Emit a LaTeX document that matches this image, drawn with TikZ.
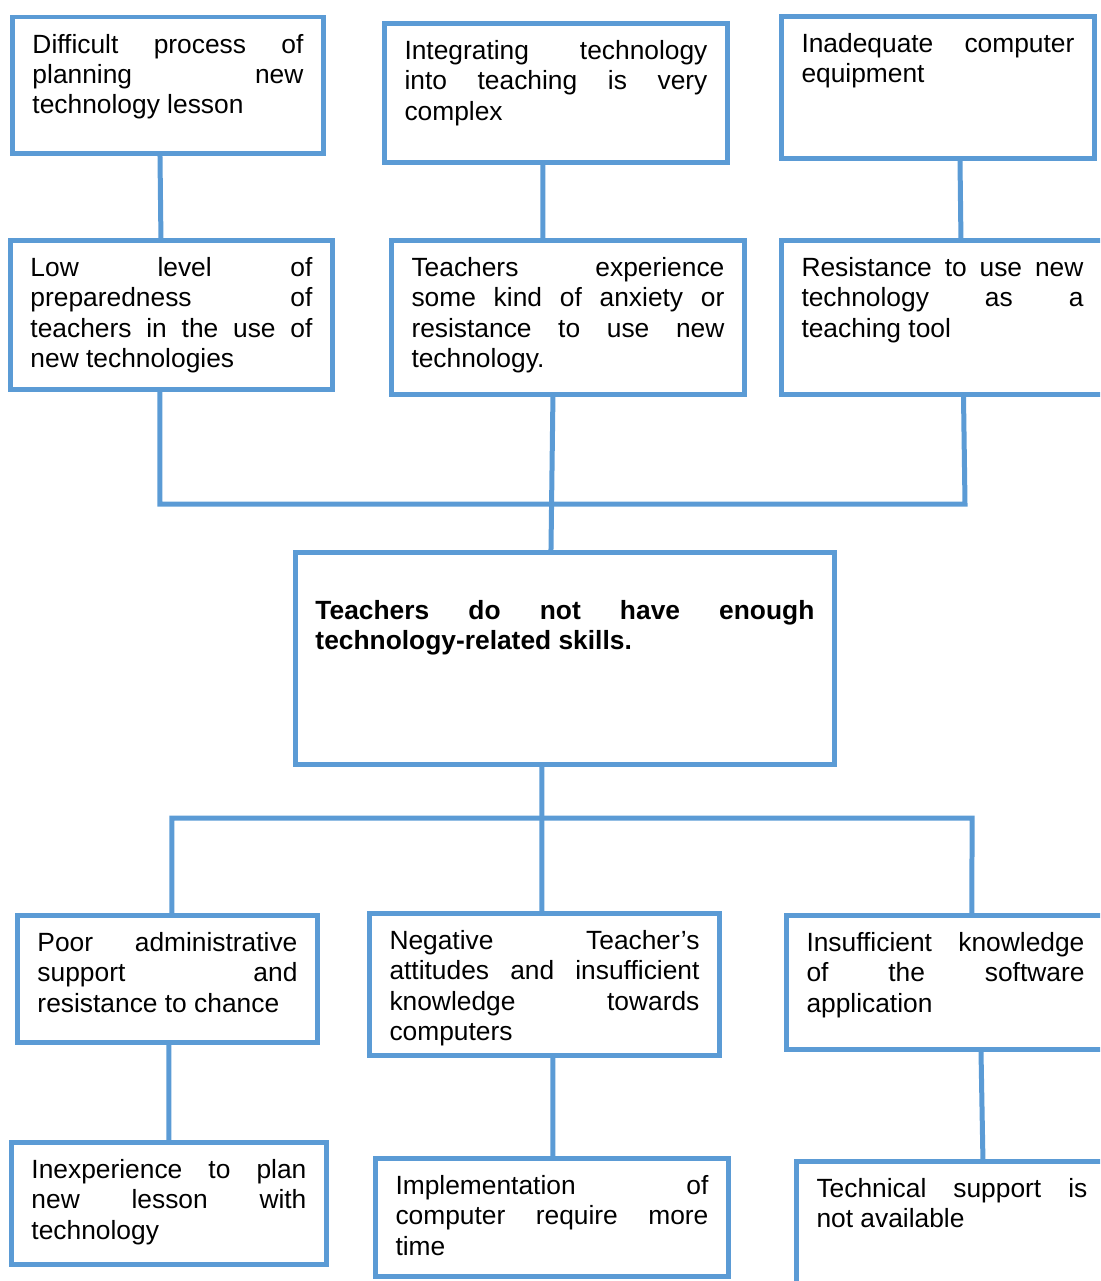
\documentclass[tikz,border=0pt]{standalone}
\usepackage{fontspec}
\setmainfont{Liberation Sans}
\definecolor{boxblue}{RGB}{91,155,213}

\begin{document}
\begin{tikzpicture}[
  x=0.02cm, y=-0.02cm,
  font=\fontsize{15}{17.2}\selectfont,
  cause/.style={draw=boxblue, line width=0.1cm, anchor=north west, outer sep=0pt, inner xsep=0.4cm, inner ysep=0.34cm},
  link/.style={draw=boxblue, line width=0.1cm}
]
\useasboundingbox (0,0) rectangle (1100,1281);
\clip (0,0) rectangle (1100,1281);

% upper causes
\node[cause] (plan) at (12.5,17) {\parbox[t][2.06cm][t]{5.42cm}{Difficult process of\linebreak planning new\linebreak technology lesson}};
\node[cause] (integ) at (384.5,23.5) {\parbox[t][2.10cm][t]{6.06cm}{Integrating technology\linebreak into teaching is very\linebreak complex}};
\node[cause] (equip) at (781.5,16.5) {\parbox[t][2.16cm][t]{5.46cm}{Inadequate computer\linebreak equipment}};

\node[cause] (prep) at (10.5,240.5) {\parbox[t][2.30cm][t]{5.64cm}{Low level of\linebreak preparedness of\linebreak teachers in the use of\linebreak new technologies}};
\node[cause] (anx) at (391.5,240.5) {\parbox[t][2.40cm][t]{6.26cm}{Teachers experience\linebreak some kind of anxiety or\linebreak resistance to use new\linebreak technology.}};
\node[cause] (resist) at (781.5,240.5) {\parbox[t][2.40cm][t]{5.64cm}{Resistance to use new\linebreak technology as a\linebreak teaching tool}};

% main problem
\node[cause, font=\fontsize{15}{17.2}\selectfont\bfseries] (skills) at (295.5,552.5) {\parbox[t][3.56cm][t]{9.98cm}{\vspace*{0.62cm}Teachers do not have enough\linebreak technology-related skills.}};

% lower causes
\node[cause] (admin) at (17.5,915.5) {\parbox[t][1.86cm][t]{5.20cm}{Poor administrative\linebreak support and\linebreak resistance to chance}};
\node[cause] (attit) at (369.5,913.5) {\parbox[t][2.16cm][t]{6.20cm}{Negative Teacher’s\linebreak attitudes and insufficient\linebreak knowledge towards\linebreak computers}};
\node[cause] (soft) at (786.5,915.5) {\parbox[t][2.00cm][t]{5.56cm}{Insufficient knowledge\linebreak of the software\linebreak application}};

\node[cause] (inexp) at (11.5,1142.5) {\parbox[t][1.76cm][t]{5.50cm}{Inexperience to plan\linebreak new lesson with\linebreak technology}};
\node[cause] (time) at (375.5,1158.5) {\parbox[t][1.68cm][t]{6.26cm}{Implementation of\linebreak computer require more\linebreak time}};
\node[cause] (tech) at (796.5,1161.5) {\parbox[t][1.92cm][t]{5.42cm}{Technical support is\linebreak not available}};

\coordinate (topbar) at (965,504);
\coordinate (botbar) at (972,818);

\draw[link] ([shift={(-8,0)}]plan.south) -- ([shift={(-10.5,0)}]prep.north);
\draw[link] ([shift={(-13,0)}]integ.south) -- ([shift={(-25,0)}]anx.north);
\draw[link] ([shift={(22,0)}]equip.south) -- ([shift={(18.5,0)}]resist.north);

\draw[link] ([shift={(-11.5,0)}]prep.south) |- (topbar) -- ([shift={(21,0)}]resist.south);
\draw[link] ([shift={(-15,0)}]anx.south) -- ([shift={(-14,0)}]skills.north);

\draw[link] ([shift={(4.5,0)}]admin.north) |- (botbar) -- ([shift={(26.5,0)}]soft.north);
\draw[link] ([shift={(-23,0)}]skills.south) -- ([shift={(-2.5,0)}]attit.north);

\draw[link] ([shift={(1.5,0)}]admin.south) -- (inexp.north);
\draw[link] ([shift={(8.5,0)}]attit.south) -- ([shift={(1,0)}]time.north);
\draw[link] ([shift={(35.5,0)}]soft.south) -- ([shift={(31,0)}]tech.north);
\end{tikzpicture}
\end{document}
